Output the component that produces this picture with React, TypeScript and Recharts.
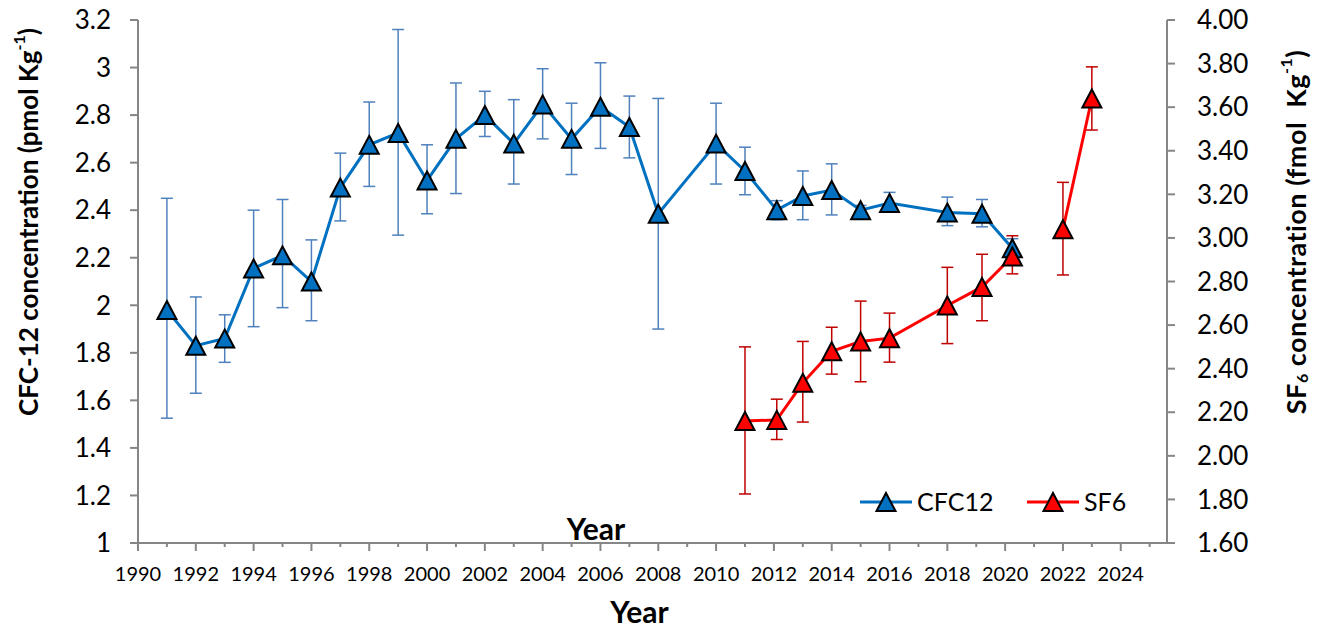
import { ErrorBar, Legend, Line, LineChart, XAxis, YAxis } from 'recharts';

// CFC-12, pmol/kg (left axis)
const cfcYears = [
  1991, 1992, 1993, 1994, 1995, 1996, 1997, 1998, 1999, 2000, 2001, 2002, 2003, 2004, 2005, 2006,
  2007, 2008, 2010, 2011, 2012.1, 2013, 2014, 2015, 2016, 2018, 2019.2, 2020.25,
];
const cfcValues = [
  1.98, 1.83, 1.86, 2.155, 2.21, 2.1, 2.495, 2.675, 2.725, 2.525, 2.7, 2.8, 2.68, 2.845, 2.7,
  2.835, 2.75, 2.385, 2.68, 2.565, 2.4, 2.46, 2.485, 2.4, 2.43, 2.39, 2.385, 2.24,
];
const cfcLow = [
  1.525, 1.63, 1.76, 1.91, 1.99, 1.935, 2.355, 2.5, 2.295, 2.385, 2.47, 2.71, 2.51, 2.7, 2.55,
  2.66, 2.62, 1.9, 2.51, 2.465, 2.36, 2.36, 2.38, 2.38, 2.41, 2.335, 2.33, 2.21,
];
const cfcHigh = [
  2.45, 2.035, 1.96, 2.4, 2.445, 2.275, 2.64, 2.855, 3.16, 2.675, 2.935, 2.9, 2.865, 2.995, 2.85,
  3.02, 2.88, 2.87, 2.85, 2.665, 2.44, 2.565, 2.595, 2.42, 2.475, 2.455, 2.445, 2.28,
];

// SF6, fmol/kg (right axis); no sample in 2021
const sf6Years = [2011, 2012.1, 2013, 2014, 2015, 2016, 2018, 2019.2, 2020.25, 2021, 2022, 2023];
const sf6Values = [2.16, 2.165, 2.335, 2.48, 2.525, 2.54, 2.69, 2.775, 2.915, null, 3.04, 3.64];
const sf6Low = [1.825, 2.075, 2.155, 2.375, 2.34, 2.43, 2.515, 2.62, 2.835, null, 2.83, 3.495];
const sf6High = [2.5, 2.26, 2.525, 2.59, 2.71, 2.655, 2.865, 2.925, 3.01, null, 3.255, 3.785];

const yearTicks = [
  1990, 1991, 1992, 1993, 1994, 1995, 1996, 1997, 1998, 1999, 2000, 2001, 2002, 2003, 2004, 2005,
  2006, 2007, 2008, 2009, 2010, 2011, 2012, 2013, 2014, 2015, 2016, 2017, 2018, 2019, 2020, 2021,
  2022, 2023, 2024, 2025,
];
const cfcTicks = [1, 1.2, 1.4, 1.6, 1.8, 2, 2.2, 2.4, 2.6, 2.8, 3, 3.2];
const sf6Ticks = [1.6, 1.8, 2.0, 2.2, 2.4, 2.6, 2.8, 3.0, 3.2, 3.4, 3.6, 3.8, 4.0];

const CFC_BLUE = '#0070c0';
const SF6_RED = '#ff0000';
const AXIS_GREY = '#868686';
const FONT = 'Lato, "Open Sans", sans-serif';

const build = (years: number[], vals: (number | null)[], lo: (number | null)[], hi: (number | null)[]) =>
  years.map((year, i) => {
    const v = vals[i];
    return {
      year,
      value: v,
      err: v == null ? undefined : [v - (lo[i] as number), (hi[i] as number) - v],
    };
  });

const cfcData = build(cfcYears, cfcValues, cfcLow, cfcHigh);
const sf6Data = build(sf6Years, sf6Values, sf6Low, sf6High);

const triangle = (cx: number, cy: number) =>
  `M${cx},${cy - 9} L${cx + 9.5},${cy + 9} L${cx - 9.5},${cy + 9} Z`;

const makeDot = (fill: string) => (props: any) => {
  const { cx, cy, index } = props;
  if (cx == null || cy == null || props.payload?.value == null) {
    return <g key={`d-${index}`} />;
  }
  return (
    <path key={`d-${index}`} d={triangle(cx, cy)} fill={fill} stroke="#000" strokeWidth={2} />
  );
};

// year ticks: long marks + labels on even years, short marks on odd years
const YearTick = (props: any) => {
  const { x, y, payload } = props;
  const even = payload.value % 2 === 0;
  return (
    <g>
      <line x1={x} y1={y} x2={x} y2={y + (even ? 8 : 4)} stroke={AXIS_GREY} strokeWidth={2} />
      {even && (
        <text x={x} y={y + 38} textAnchor="middle" fontSize={20} fontFamily={FONT} fill="#000">
          {payload.value}
        </text>
      )}
    </g>
  );
};

const LegendContent = () => {
  const items = [
    { name: 'CFC12', color: CFC_BLUE },
    { name: 'SF6', color: SF6_RED },
  ];
  return (
    <svg width={280} height={30} style={{ display: 'block', overflow: 'visible' }}>
      {items.map((it, i) => {
        const x0 = i * 167;
        return (
          <g key={it.name}>
            <line x1={x0} y1={14} x2={x0 + 52} y2={14} stroke={it.color} strokeWidth={3} />
            <path d={triangle(x0 + 26, 14)} fill={it.color} stroke="#000" strokeWidth={2} />
            <text x={x0 + 57} y={23} fontSize={25} fontFamily={FONT} fill="#000">
              {it.name}
            </text>
          </g>
        );
      })}
    </svg>
  );
};

const LeftTitle = (props: any) => {
  const { viewBox } = props;
  const cx = viewBox.x + 28;
  const cy = 222;
  return (
    <text
      transform={`translate(${cx},${cy}) rotate(-90)`}
      textAnchor="middle"
      dominantBaseline="central"
      fontSize={26}
      fontWeight={700}
      fontFamily={FONT}
      fill="#000"
    >
      CFC-12 concentration (pmol Kg
      <tspan fontSize={16} dy={-10}>-1</tspan>
      <tspan dy={10}>)</tspan>
    </text>
  );
};

const RightTitle = (props: any) => {
  const { viewBox } = props;
  const cx = viewBox.x + 128;
  const cy = 232;
  return (
    <text
      transform={`translate(${cx},${cy}) rotate(-90)`}
      textAnchor="middle"
      dominantBaseline="central"
      fontSize={27}
      fontWeight={700}
      fontFamily={FONT}
      fill="#000"
      letterSpacing={0.5}
      style={{ whiteSpace: 'pre' }}
    >
      SF
      <tspan fontSize={16} dy={6}>6</tspan>
      <tspan dy={-6}> concentration (fmol  Kg</tspan>
      <tspan fontSize={16} dy={-10}>-1</tspan>
      <tspan dy={10}>)</tspan>
    </text>
  );
};

export default function App() {
  return (
    <div style={{ position: 'absolute', left: 0, top: 0, width: 1323, height: 628, background: '#fff' }}>
      <LineChart width={1323} height={628} margin={{ top: 20, right: 0, bottom: 0, left: 0 }}>
        <XAxis
          type="number"
          dataKey="year"
          domain={[1990, 2025.6]}
          ticks={yearTicks}
          interval={0}
          height={85}
          tickSize={0}
          tickMargin={0}
          tick={<YearTick />}
          axisLine={{ stroke: AXIS_GREY, strokeWidth: 2 }}
          label={{
            value: 'Year',
            position: 'insideBottom',
            offset: 5,
            dx: -13,
            style: { fontSize: 30, fontWeight: 700, fontFamily: FONT, fill: '#000' },
          }}
        />
        <YAxis
          yAxisId="cfc"
          orientation="left"
          width={138}
          domain={[1, 3.2]}
          ticks={cfcTicks}
          interval={0}
          tickFormatter={(v: number) => String(Math.round(v * 10) / 10)}
          tickSize={8}
          tickMargin={19}
          tickLine={{ stroke: AXIS_GREY, strokeWidth: 2 }}
          axisLine={{ stroke: AXIS_GREY, strokeWidth: 2 }}
          tick={{ fontSize: 26, fontFamily: FONT, fill: '#000' }}
          label={<LeftTitle />}
        />
        <YAxis
          yAxisId="sf6"
          orientation="right"
          width={156}
          domain={[1.6, 4.0]}
          ticks={sf6Ticks}
          interval={0}
          tickFormatter={(v: number) => v.toFixed(2)}
          tickSize={8}
          tickMargin={22}
          tickLine={{ stroke: AXIS_GREY, strokeWidth: 2 }}
          axisLine={{ stroke: AXIS_GREY, strokeWidth: 2 }}
          tick={{ fontSize: 26, fontFamily: FONT, fill: '#000', textAnchor: 'start' }}
          label={<RightTitle />}
        />
        <Legend
          layout="horizontal"
          verticalAlign="middle"
          align="center"
          content={<LegendContent />}
          wrapperStyle={{ position: 'absolute', left: 860, top: 488, width: 300 }}
        />
        <Line
          yAxisId="cfc"
          data={cfcData}
          dataKey="value"
          name="CFC12"
          stroke={CFC_BLUE}
          strokeWidth={3}
          dot={makeDot(CFC_BLUE)}
          activeDot={false}
          isAnimationActive={false}
        >
          <ErrorBar dataKey="err" direction="y" width={6} stroke="#4f81bd" strokeWidth={1.5} />
        </Line>
        <Line
          yAxisId="sf6"
          data={sf6Data}
          dataKey="value"
          name="SF6"
          stroke={SF6_RED}
          strokeWidth={3}
          dot={makeDot(SF6_RED)}
          activeDot={false}
          connectNulls={false}
          isAnimationActive={false}
        >
          <ErrorBar dataKey="err" direction="y" width={6} stroke="#c00000" strokeWidth={1.5} />
        </Line>
        <text
          x={596}
          y={540}
          textAnchor="middle"
          fontSize={30}
          fontWeight={700}
          fontFamily={FONT}
          fill="#000"
        >
          Year
        </text>
      </LineChart>
    </div>
  );
}
